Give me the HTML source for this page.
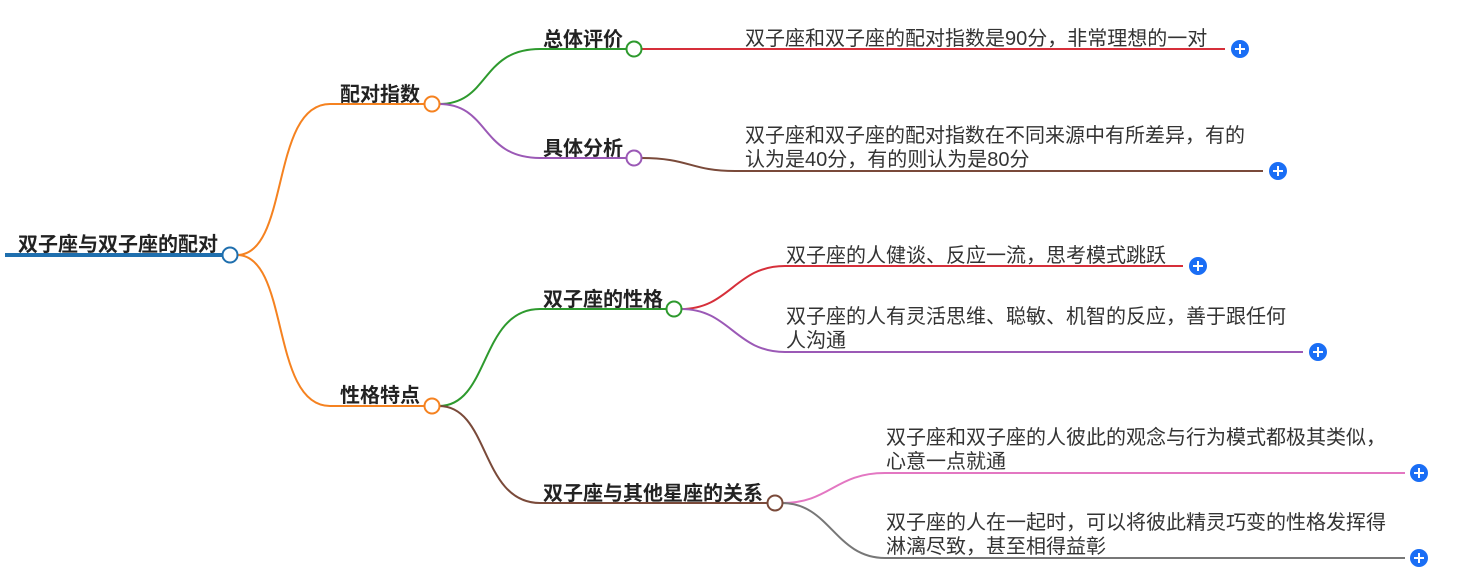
<!DOCTYPE html>
<html><head><meta charset="utf-8"><style>
html,body{margin:0;padding:0;background:#fff;}
svg{display:block}
text{font-family:"Liberation Sans","Noto Sans CJK SC",sans-serif;}
.b{font-weight:bold;font-size:20px;fill:#222}
.t{font-size:20px;fill:#333}
</style></head><body>
<svg width="1458" height="585" viewBox="0 0 1458 585" xmlns="http://www.w3.org/2000/svg">
<g fill="none" stroke-width="2">
<path d="M5 255 H222" stroke="#1f6fae" stroke-width="4"/>
<path d="M237 255 C290 255 270 104 330 104 H425" stroke="#f58220"/>
<path d="M237 255 C290 255 270 406 330 406 H425" stroke="#f58220"/>
<path d="M439 104 C490 104 480 49 540 49 H627" stroke="#2e9a2e"/>
<path d="M439 104 C490 104 480 158 540 158 H627" stroke="#9b59b6"/>
<path d="M641 49 H1225" stroke="#d62f3a"/>
<path d="M641 158 C690 158 690 171 735 171 H1263" stroke="#7a4a3a"/>
<path d="M439 406 C490 406 480 309 540 309 H667" stroke="#2e9a2e"/>
<path d="M439 406 C490 406 480 503 540 503 H768" stroke="#7a4a3a"/>
<path d="M681 309 C730 309 735 266 785 266 H1183" stroke="#d62f3a"/>
<path d="M681 309 C730 309 735 352 785 352 H1303" stroke="#9b59b6"/>
<path d="M782 503 C830 503 835 473 885 473 H1405" stroke="#e377c2"/>
<path d="M782 503 C830 503 835 558 885 558 H1405" stroke="#777"/>
</g>
<g fill="#fff" stroke-width="2">
<circle cx="230" cy="255" r="7.5" stroke="#1f6fae"/>
<circle cx="432" cy="104" r="7.5" stroke="#f58220"/>
<circle cx="432" cy="406" r="7.5" stroke="#f58220"/>
<circle cx="634" cy="49" r="7.5" stroke="#2e9a2e"/>
<circle cx="634" cy="158" r="7.5" stroke="#9b59b6"/>
<circle cx="674" cy="309" r="7.5" stroke="#2e9a2e"/>
<circle cx="775" cy="503" r="7.5" stroke="#7a4a3a"/>
</g>
<g fill="#1a6ef5">
<circle cx="1240" cy="49" r="9"/><circle cx="1278" cy="171" r="9"/>
<circle cx="1198" cy="266" r="9"/><circle cx="1318" cy="352" r="9"/>
<circle cx="1419" cy="473" r="9"/><circle cx="1419" cy="558" r="9"/>
</g>
<g stroke="#fff" stroke-width="2">
<path d="M1235 49h10M1240 44v10"/><path d="M1273 171h10M1278 166v10"/>
<path d="M1193 266h10M1198 261v10"/><path d="M1313 352h10M1318 347v10"/>
<path d="M1414 473h10M1419 468v10"/><path d="M1414 558h10M1419 553v10"/>
</g>
<text class="b" x="18" y="251">双子座与双子座的配对</text>
<text class="b" x="340" y="101">配对指数</text>
<text class="b" x="340" y="402">性格特点</text>
<text class="b" x="543" y="46">总体评价</text>
<text class="b" x="543" y="155">具体分析</text>
<text class="b" x="543" y="306">双子座的性格</text>
<text class="b" x="543" y="500">双子座与其他星座的关系</text>
<text class="t" x="745" y="45">双子座和双子座的配对指数是90分，非常理想的一对</text>
<text class="t" x="745" y="142">双子座和双子座的配对指数在不同来源中有所差异，有的</text>
<text class="t" x="745" y="166">认为是40分，有的则认为是80分</text>
<text class="t" x="786" y="262">双子座的人健谈、反应一流，思考模式跳跃</text>
<text class="t" x="786" y="323">双子座的人有灵活思维、聪敏、机智的反应，善于跟任何</text>
<text class="t" x="786" y="347">人沟通</text>
<text class="t" x="886" y="444">双子座和双子座的人彼此的观念与行为模式都极其类似，</text>
<text class="t" x="886" y="468">心意一点就通</text>
<text class="t" x="886" y="529">双子座的人在一起时，可以将彼此精灵巧变的性格发挥得</text>
<text class="t" x="886" y="553">淋漓尽致，甚至相得益彰</text>
</svg>
</body></html>
